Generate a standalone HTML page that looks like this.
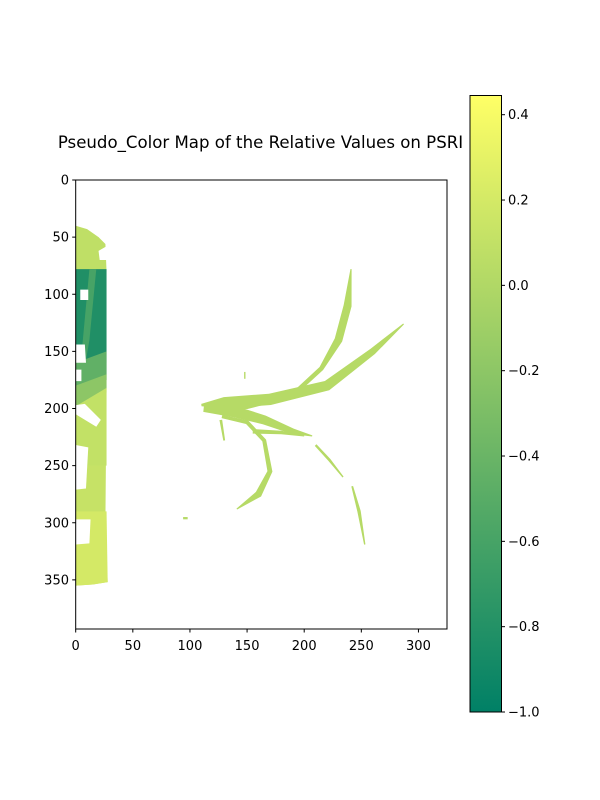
<!DOCTYPE html>
<html><head><meta charset="utf-8"><style>
body{margin:0;background:#fff}
svg{display:block;font-family:"DejaVu Sans","Liberation Sans",sans-serif}
</style></head><body>
<svg id="c" width="600" height="800" viewBox="0 0 600 800">
<text x="260.5" y="148" font-size="16.6" text-anchor="middle">Pseudo_Color Map of the Relative Values on PSRI</text>
<defs><linearGradient id="cbg" x1="0" y1="1" x2="0" y2="0"><stop offset="0" stop-color="rgb(0,128,102)"/><stop offset="1" stop-color="rgb(255,255,102)"/></linearGradient>
<clipPath id="ax"><rect x="75.7" y="180" width="371.3" height="449"/></clipPath></defs>
<g id="img" clip-path="url(#ax)"></g>
<rect x="75.7" y="180" width="371.3" height="449" fill="none" stroke="#000" stroke-width="1"/>
<g id="xt"></g>
<g id="yt"></g>
<rect x="470" y="95.5" width="31.5" height="616.5" fill="url(#cbg)" stroke="#000" stroke-width="1"/>
<g id="ct"></g>
</svg>
<script>
const xTicks=[0,50,100,150,200,250,300];
const yTicks=[0,50,100,150,200,250,300,350];
const cbTicks=[0.4,0.2,0.0,-0.2,-0.4,-0.6,-0.8,-1.0];
const vmin=-1.0, vmax=0.445;
// regions: [value, polygon points in data coords (col,row)]; null value = background hole
const stripValues=[0.08,0.12,-0.82,-0.6,-0.45,-0.2,0.1,0.2,null,null,null,null,null,null,null];
const stripShapes=[
 [[0,40],[10,43],[20,50],[26,56],[27,80],[0,80]],
 [[0,190],[27,180],[26,300],[28,352],[15,354],[0,355]],
 [[0,78],[27,78],[27,175],[20,185],[0,198]],
 [[12,78],[18,78],[12,140],[6,175],[3,175]],
 [[0,160],[27,150],[27,175],[0,190]],
 [[0,180],[27,170],[27,186],[0,200]],
 [[0,198],[27,182],[27,250],[0,250]],
 [[0,290],[27,290],[28,352],[15,354],[0,355]],
 [[0,144],[8,144],[9,160],[0,160]],
 [[4,96],[11,96],[11,105],[4,105]],
 [[0,166],[5,166],[5,176],[0,176]],
 [[0,197],[8,196],[22,210],[18,216],[0,205]],
 [[0,232],[11,234],[9,270],[0,271]],
 [[0,297],[13,297],[12,318],[0,319]],
 [[20,62],[27,58],[27,70],[21,70]]
];
// leaves: centerline points [col,row,halfWidth]
const leafValues=[0.03,0.03,0.03,0.03,0.03,0.03,0.03,0.03,0.03];
const leafLines=[
 [[110,197,1],[130,195,5],[170,192,5],[220,180,4.5],[260,150,3],[287,126,0.5]],
 [[115,200,1],[150,198,2.5],[190,188,2],[215,165,2],[230,140,3.5],[238,110,3.5],[241,78,0.5]],
 [[112,200,3],[140,203,5],[165,210,4],[190,220,2.5],[207,224,0.5]],
 [[128,207,1.5],[150,212,1.8],[165,228,1.8],[170,255,2.2],[160,275,3],[141,288,0.5]],
 [[127,210,1.2],[130,228,0.8]],
 [[210,232,1],[222,245,1.2],[234,260,0.6]],
 [[242,268,0.8],[248,290,1.5],[253,319,0.6]],
 [[155,220,2],[180,221,1.5],[200,224,0.5]],
 [[148,168,0.6],[148,174,0.6]]
];
const NS='http://www.w3.org/2000/svg';
const X0=75.7,Y0=180,K=1.1425;
function sx(c){return X0+c*K}
function sy(r){return Y0+r*K}
function color(v){let t=(v-vmin)/(vmax-vmin);t=Math.max(0,Math.min(1,t));return `rgb(${Math.round(255*t)},${Math.round(255*(0.5+0.5*t))},102)`}
const img=document.getElementById('img');
function poly(pts,fill,name){const p=document.createElementNS(NS,'polygon');
 p.setAttribute('points',pts.map(q=>sx(q[0])+','+sy(q[1])).join(' '));p.setAttribute('fill',fill);
 
 
 img.appendChild(p);}
stripShapes.forEach((s,i)=>poly(s,stripValues[i]===null?'#fff':color(stripValues[i]),'strip-region'));
leafLines.forEach((L,i)=>{const a=[],b=[];
 for(let j=0;j<L.length;j++){const p=L[j],q=L[Math.min(j+1,L.length-1)],o=L[Math.max(j-1,0)];
  let dx=q[0]-o[0],dy=q[1]-o[1],n=Math.hypot(dx,dy)||1;const nx=-dy/n,ny=dx/n;
  a.push([p[0]+nx*p[2],p[1]+ny*p[2]]);b.unshift([p[0]-nx*p[2],p[1]-ny*p[2]]);}
 poly(a.concat(b),color(leafValues[i]),'leaf');});
const dot=[96,296];poly([[dot[0]-2,dot[1]-1],[dot[0]+2,dot[1]-1],[dot[0]+2,dot[1]+1],[dot[0]-2,dot[1]+1]],color(0.03),'leaf-fragment');
function line(g,x1,y1,x2,y2){const l=document.createElementNS(NS,'line');l.setAttribute('x1',x1);l.setAttribute('y1',y1);l.setAttribute('x2',x2);l.setAttribute('y2',y2);l.setAttribute('stroke','#000');g.appendChild(l);}
function txt(g,x,y,s,anc,name){const t=document.createElementNS(NS,'text');t.setAttribute('x',x);t.setAttribute('y',y);t.setAttribute('font-size','13');t.setAttribute('text-anchor',anc);t.textContent=s;
 
 
 g.appendChild(t);}
const xt=document.getElementById('xt');
xTicks.forEach(v=>{line(xt,sx(v),629,sx(v),632.5);txt(xt,sx(v),650,String(v),'middle','x-tick-label');});
const yt=document.getElementById('yt');
yTicks.forEach(v=>{line(yt,72.2,sy(v),75.7,sy(v));txt(yt,69,sy(v)+4.5,String(v),'end','y-tick-label');});
const ct=document.getElementById('ct');
const cy=v=>712-(v-vmin)/(vmax-vmin)*616.5;
cbTicks.forEach(v=>{line(ct,501.5,cy(v),505,cy(v));txt(ct,508,cy(v)+4.5,(v<0?'\u2212':'')+Math.abs(v).toFixed(1),'start','colorbar-tick-label');});
</script>
</body></html>
